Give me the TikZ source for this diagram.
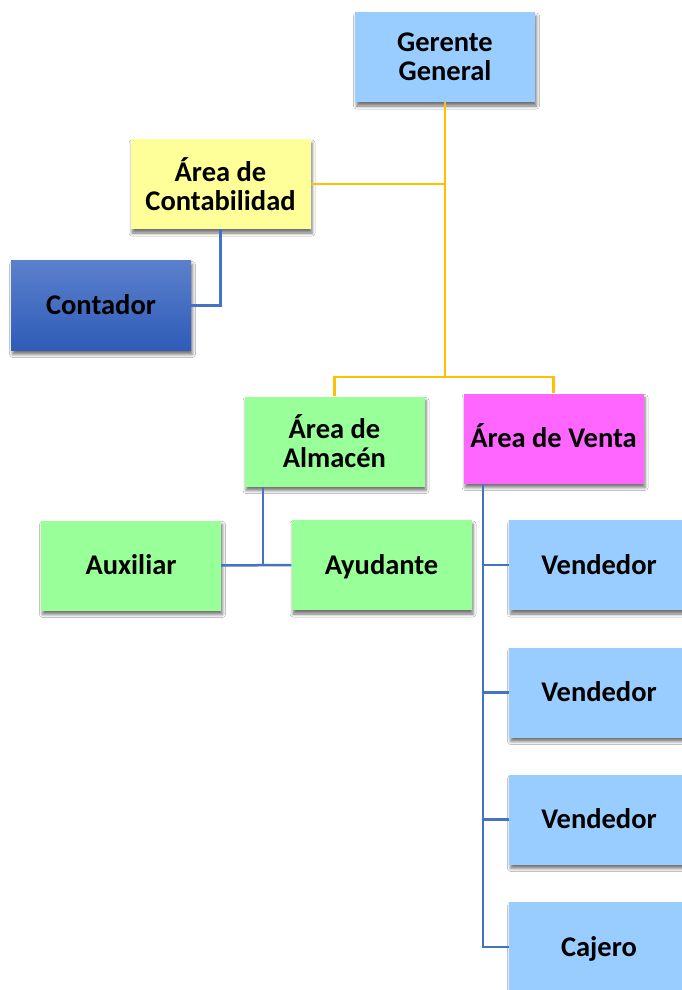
\documentclass[tikz,border=0pt]{standalone}
\usepackage{fontspec}
\setmainfont{Carlito}
\usetikzlibrary{shadows.blur}
\definecolor{cblue}{HTML}{99CCFF}
\definecolor{cyellow}{HTML}{FFFF99}
\definecolor{cgreen}{HTML}{99FF99}
\definecolor{cmag}{HTML}{FF66FF}
\definecolor{ctop}{HTML}{5C80CC}
\definecolor{cbot}{HTML}{2E5CB8}
\definecolor{lyellow}{HTML}{FFC000}
\definecolor{lblue}{HTML}{4472C4}
\tikzset{
  box/.style={rectangle, minimum width=180pt, minimum height=90pt, inner sep=0pt,
    align=center, font=\fontsize{28.5}{29}\selectfont\bfseries, text=black,
    blur shadow={shadow xshift=1.5pt, shadow yshift=-4pt, shadow blur radius=3pt, shadow opacity=55}},
  single/.style={text height=22pt, text depth=4pt},
  yline/.style={draw=lyellow, line width=2.5pt},
  bline/.style={draw=lblue, line width=2.5pt},
}
\begin{document}
\begin{tikzpicture}[x=1pt,y=-1pt]
\useasboundingbox (0,0) rectangle (682,990);
\clip (0,0) rectangle (682,990);
\fill[white] (0,0) rectangle (682,990);
% nodes
\node[box, fill=cblue] (ger) at (445,57) {Gerente\\General};
\node[box, fill=cyellow] (cont) at (220.5,184) {Área de\\Contabilidad};
\node[box, single, top color=ctop, bottom color=cbot] (ctd) at (101,305.5) {Contador};
\node[box, fill=cgreen] (alm) at (334.5,441.5) {Área de\\Almacén};
\node[box, single, fill=cmag] (ven) at (553.5,438.5) {Área de Venta};
\node[box, single, fill=cgreen] (aux) at (131,565.5) {Auxiliar};
\node[box, single, fill=cgreen] (ayu) at (381.5,565) {Ayudante};
\node[box, single, fill=cblue] (v1) at (599,565) {Vendedor};
\node[box, single, fill=cblue] (v2) at (599,692.5) {Vendedor};
\node[box, single, fill=cblue] (v3) at (599,819.5) {Vendedor};
\node[box, single, fill=cblue] (caj) at (599,947) {Cajero};
% coordinates
\coordinate (jb) at (445,377);
\coordinate (aj) at (263,565);
\coordinate (vx) at (483,0);
% yellow connectors
\draw[yline] (ger.south) -- (jb);
\draw[yline] (cont.east) -- (cont.east -| ger.south);
\draw[yline] (jb) -| (alm.north);
\draw[yline] (jb) -| (ven.north);
% blue connectors
\draw[bline] (cont.south) |- (ctd.east);
\draw[bline] (alm.south -| aj) -- (aj);
\draw[bline] (aux.east) -- (ayu.west);
\draw[bline] (ven.south -| vx) |- (caj.west);
\draw[bline] (v1.west -| vx) -- (v1.west);
\draw[bline] (v2.west -| vx) -- (v2.west);
\draw[bline] (v3.west -| vx) -- (v3.west);
\end{tikzpicture}
\end{document}
